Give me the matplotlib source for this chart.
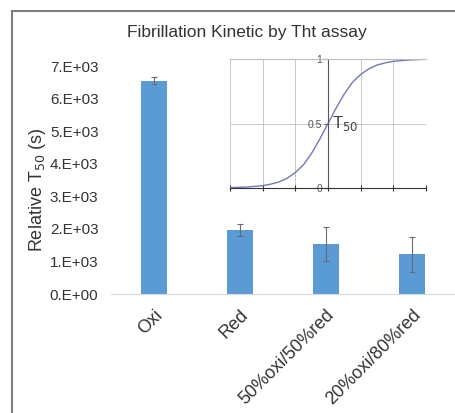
import numpy as np
import matplotlib
matplotlib.use("Agg")
import matplotlib.pyplot as plt
from matplotlib.lines import Line2D
from matplotlib.ticker import FuncFormatter

plt.rcParams['font.family'] = ['Liberation Sans', 'DejaVu Sans']

# bar chart data
samples = ["Oxi", "Red", "50%oxi/50%red", "20%oxi/80%red"]
t50 = [6550, 1960, 1530, 1220]
t50_err = [100, 190, 530, 530]

# inset sigmoid
sig_x = [-3.0, -2.5, -2.0, -1.75, -1.5, -1.25, -1.0, -0.75, -0.5, -0.25, 0.0,
         0.25, 0.5, 0.75, 1.0, 1.25, 1.5, 1.75, 2.0, 2.5, 3.0]
sig_y = [0.003, 0.007, 0.018, 0.03, 0.047, 0.076, 0.12, 0.18, 0.27, 0.38, 0.5,
         0.62, 0.73, 0.82, 0.88, 0.924, 0.953, 0.97, 0.982, 0.993, 0.998]

fig = plt.figure(figsize=(4.55, 4.13), dpi=100)

# outer chart border, only top and left show in the screenshot
bx, by = 12 / 455, 1 - 11 / 413
fig.add_artist(Line2D([bx, 1.0], [by, by], transform=fig.transFigure,
                      color="#7f7f7f", linewidth=1.5))
fig.add_artist(Line2D([bx, bx], [0, by], transform=fig.transFigure,
                      color="#7f7f7f", linewidth=1.5))

ax = fig.add_axes([111/455, (413-294)/413, 344/455, (294-66)/413])
pos = np.arange(len(samples))
ax.bar(pos, t50, width=0.31, color="#5B9BD5", zorder=2)
ax.errorbar(pos, t50, yerr=t50_err, fmt="none", ecolor="#6b6b6b",
            elinewidth=0.8, capsize=2.5, capthick=0.8, zorder=3)
ax.set_xlim(-0.5, len(samples) - 0.5)
ax.set_ylim(0, 7000)
ax.set_yticks(np.arange(0, 7001, 1000))
ax.yaxis.set_major_formatter(FuncFormatter(lambda v, p: "{:#.0E}".format(v)))
ax.set_xticks(pos)
ax.set_xticklabels(samples, rotation=45, ha="right", rotation_mode="anchor")
ax.tick_params(axis="y", length=0, labelsize=11, colors="#333333", pad=9)
ax.tick_params(axis="x", length=0, labelsize=13, colors="#333333", pad=9)
for s in ["top", "right", "left"]:
    ax.spines[s].set_visible(False)
ax.spines["bottom"].set_color("#d9d9d9")
ax.set_ylabel("Relative T$_{50}$ (s)", fontsize=13, color="#333333")
ax.yaxis.set_label_coords(-0.184, 0.456)
fig.text(247/455, 1 - 33/413, "Fibrillation Kinetic by Tht assay",
         ha="center", va="center", fontsize=12.5, color="#333333")

# inset
ins = fig.add_axes([230/455, (413-188)/413, 196/455, 129/413])
ins.plot(sig_x, sig_y, color="#7377bd", linewidth=1)
ins.set_xlim(-3, 3)
ins.set_ylim(0, 1)
ins.set_xticks(np.arange(-3, 4, 1))
ins.set_xticklabels([])
ins.set_yticks([0, 0.5, 1])
ins.set_yticklabels(["0", "0.5", "1"])
ins.grid(True, color="#c8c8c8", linewidth=0.7)
ins.spines["left"].set_position(("data", 0))
ins.spines["left"].set_color("#555555")
ins.spines["bottom"].set_color("#333333")
ins.spines["top"].set_color("#bbbbbb")
ins.spines["right"].set_visible(False)
ins.tick_params(axis="y", length=3, direction="out", labelsize=7.5,
                colors="#555555", pad=1)
ins.tick_params(axis="x", length=4, direction="inout", colors="#333333")
ins.text(0.12, 0.5, "T$_{50}$", fontsize=12, color="#404040", va="center",
         ha="left")
ins.set_facecolor("white")

fig.savefig("out.png", dpi=100)
